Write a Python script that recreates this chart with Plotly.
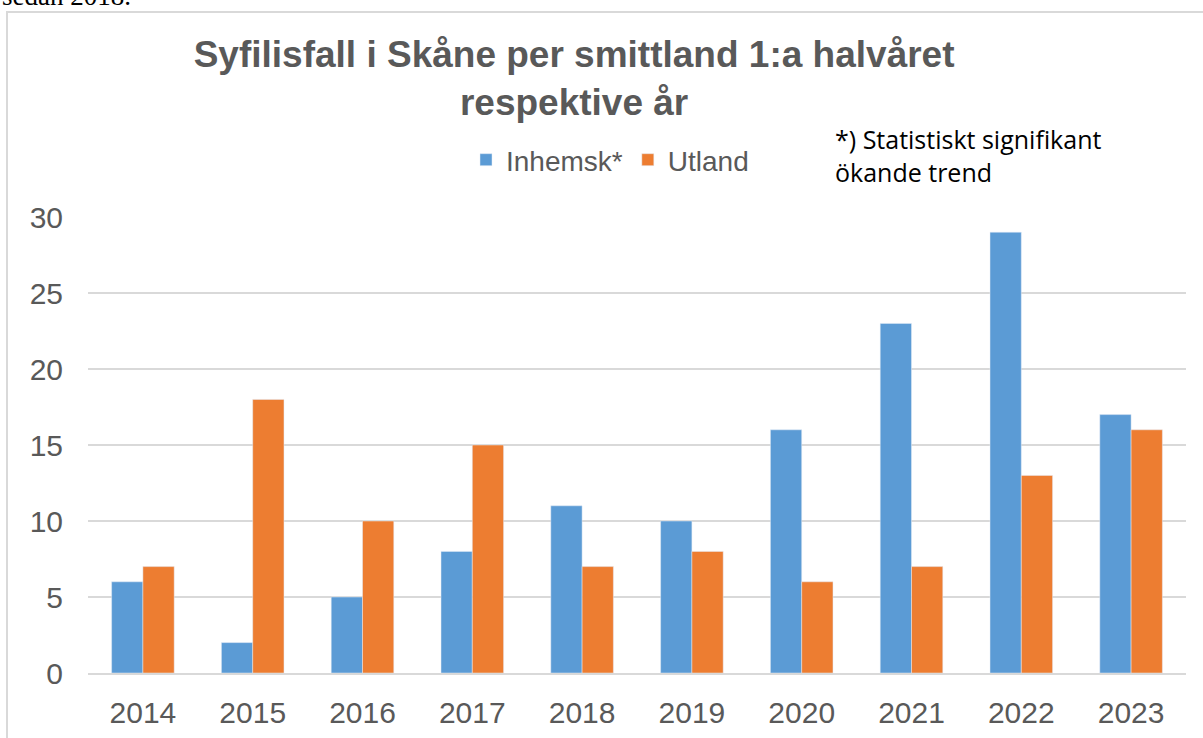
import plotly.graph_objects as go

years = ["2014", "2015", "2016", "2017", "2018", "2019", "2020", "2021", "2022", "2023"]
inhemsk = [6, 2, 5, 8, 11, 10, 16, 23, 29, 17]
utland = [7, 18, 10, 15, 7, 8, 6, 7, 13, 16]

W, H = 1203, 738
L, R, T, B = 88, 1186, 217, 673
pw, ph = R - L, B - T

def px(x):
    return (x - L) / pw

def py(y):
    return (B - y) / ph

fig = go.Figure()
fig.add_trace(go.Bar(x=years, y=inhemsk, name="Inhemsk*", marker_color="#5B9BD5"))
fig.add_trace(go.Bar(x=years, y=utland, name="Utland", marker_color="#ED7D31"))

fig.update_layout(
    width=W, height=H,
    margin=dict(l=L, r=W - R, t=T, b=H - B, autoexpand=False),
    paper_bgcolor="white", plot_bgcolor="white",
    barmode="group", bargap=0.43, bargroupgap=0,
    font=dict(family="Liberation Sans, Arial, sans-serif", color="#595959"),
    title=dict(
        text="<b>Syfilisfall i Skåne per smittland 1:a halvåret<br>respektive år</b>",
        x=px(612), xanchor="center", y=1 - 67 / H, yanchor="top",
        font=dict(size=37, color="#595959"),
    ),
    legend=dict(
        orientation="h", x=px(610), xanchor="center", y=py(160), yanchor="middle",
        font=dict(size=28, color="#595959"), bgcolor="rgba(0,0,0,0)",
        itemwidth=30,
    ),
    xaxis=dict(
        tickfont=dict(size=30, color="#595959"), showgrid=False,
        showline=True, linecolor="#D9D9D9", linewidth=2, ticks="",
        ticklabelstandoff=12,
    ),
    yaxis=dict(
        range=[0, 30], dtick=5, tickfont=dict(size=30, color="#595959"),
        gridcolor="#D9D9D9", gridwidth=2, zeroline=False, ticks="",
        ticklabelstandoff=24,
    ),
    showlegend=True,
)

fig.add_annotation(
    text="*) Statistiskt signifikant<br>ökande trend", xref="paper", yref="paper",
    x=px(833), y=py(120), xanchor="left", yanchor="top", align="left",
    showarrow=False, font=dict(family="Open Sans, sans-serif", size=25, color="#000000"),
)
fig.add_annotation(
    text="sedan 2018.", xref="paper", yref="paper",
    x=px(0), y=py(13), xanchor="left", yanchor="bottom", align="left",
    showarrow=False, font=dict(family="Liberation Serif, serif", size=27, color="#000000"),
)
fig.add_shape(
    type="rect", xref="paper", yref="paper",
    x0=px(7), x1=px(1260), y0=py(800), y1=py(12),
    line=dict(color="#D9D9D9", width=2), fillcolor="rgba(0,0,0,0)", layer="below",
)

fig.write_html(
    "out.html",
    config={"displayModeBar": False},
    post_script="document.body.style.margin='0';document.body.style.overflow='hidden';",
)
